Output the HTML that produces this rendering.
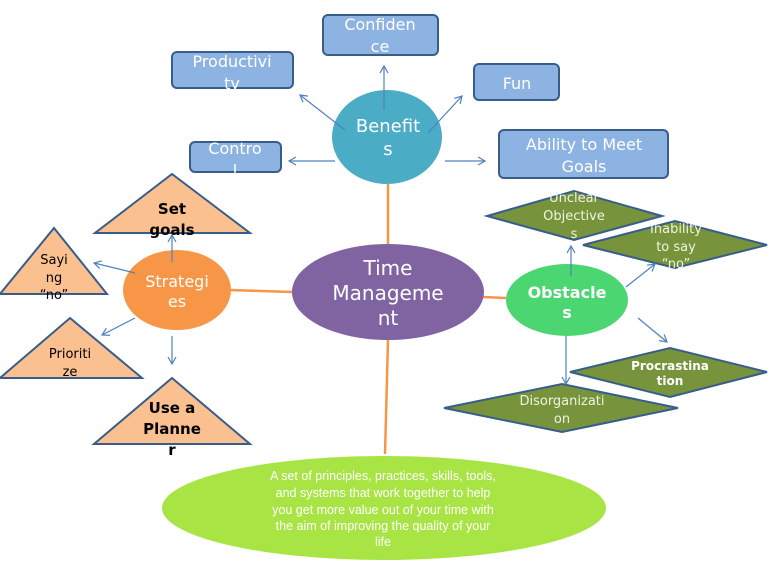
<!DOCTYPE html>
<html><head><meta charset="utf-8"><style>
html,body{margin:0;padding:0;background:#fff;}
svg{display:block;font-family:"DejaVu Sans","Liberation Sans",sans-serif;}
</style></head><body>
<svg width="768" height="576" viewBox="0 0 768 576" xmlns="http://www.w3.org/2000/svg">
<defs>
<marker id="a" markerWidth="10" markerHeight="10" refX="8" refY="5" orient="auto" markerUnits="userSpaceOnUse">
<path d="M1,1 L8,5 L1,9" fill="none" stroke="#4f81bd" stroke-width="1.2"/>
</marker>
</defs>
<!-- orange connectors -->
<g stroke="#f79646" stroke-width="2.5">
<line x1="388" y1="184" x2="388" y2="246"/>
<line x1="229" y1="290" x2="293" y2="292"/>
<line x1="483" y1="297" x2="506" y2="298"/>
<line x1="388" y1="340" x2="385" y2="454"/>
</g>
<!-- boxes -->
<g fill="#8db3e2" stroke="#385d8a" stroke-width="2">
<rect x="323" y="15" width="115" height="40" rx="5"/>
<rect x="172" y="52" width="121" height="36" rx="5"/>
<rect x="474" y="64" width="85" height="36" rx="5"/>
<rect x="190" y="142" width="91" height="30" rx="5"/>
<rect x="499" y="130" width="169" height="48" rx="5"/>
</g>
<g fill="#fff" font-size="16" text-anchor="middle">
<text x="380" y="30">Confiden</text><text x="380" y="52">ce</text>
<text x="232" y="67">Productivi</text><text x="232" y="89">ty</text>
<text x="517" y="89">Fun</text>
<text x="235" y="154">Contro</text><text x="235" y="176">l</text>
<text x="584" y="150">Ability to Meet</text><text x="584" y="172">Goals</text>
</g>
<!-- ellipses -->
<ellipse cx="387" cy="137" rx="55" ry="47" fill="#4bacc6"/>
<ellipse cx="388" cy="292" rx="96" ry="48" fill="#8064a2"/>
<ellipse cx="177" cy="290" rx="54" ry="40" fill="#f79646"/>
<ellipse cx="567" cy="300" rx="61" ry="36" fill="#4cd672"/>
<ellipse cx="384" cy="508" rx="222" ry="52" fill="#a8e544"/>
<g fill="#fff" text-anchor="middle">
<text x="388" y="132" font-size="18">Benefit</text><text x="388" y="155" font-size="18">s</text>
<text x="388" y="275" font-size="20">Time</text><text x="388" y="300" font-size="20">Manageme</text><text x="388" y="325" font-size="20">nt</text>
<text x="177" y="287" font-size="16">Strategi</text><text x="177" y="307" font-size="16">es</text>
<text x="567" y="298" font-size="16" font-weight="bold">Obstacle</text><text x="567" y="318" font-size="16" font-weight="bold">s</text>
<g font-size="12.5" font-family="'Liberation Sans Narrow','Liberation Sans',sans-serif">
<text x="383" y="480">A set of principles, practices, skills, tools,</text>
<text x="383" y="497">and systems that work together to help</text>
<text x="383" y="514">you get more value out of your time with</text>
<text x="383" y="530">the aim of improving the quality of your</text>
<text x="383" y="546">life</text>
</g>
</g>
<!-- triangles -->
<g fill="#fac090" stroke="#385d8a" stroke-width="2">
<polygon points="172,174 250,233 95,233"/>
<polygon points="54,228 107,294 0,294"/>
<polygon points="70,318 142,378 0,378"/>
<polygon points="172,378 250,444 94,444"/>
</g>
<g fill="#000" text-anchor="middle">
<text x="172" y="214" font-size="15" font-weight="bold">Set</text><text x="172" y="235" font-size="15" font-weight="bold">goals</text>
<text x="54" y="264" font-size="13">Sayi</text><text x="54" y="282" font-size="13">ng</text><text x="54" y="299" font-size="13">“no”</text>
<text x="70" y="358" font-size="13">Prioriti</text><text x="70" y="376" font-size="13">ze</text>
<text x="172" y="413" font-size="15" font-weight="bold">Use a</text><text x="172" y="434" font-size="15" font-weight="bold">Planne</text><text x="172" y="455" font-size="15" font-weight="bold">r</text>
</g>
<!-- diamonds -->
<g fill="#77933c" stroke="#385d8a" stroke-width="2">
<polygon points="487,216 574,191 662,216 574,240"/>
<polygon points="583,245 675,221 767,245 675,268"/>
<polygon points="570,372 670,348 767,372 670,397"/>
<polygon points="444,408 562,384 678,408 562,432"/>
</g>
<g fill="#eef3e0" text-anchor="middle" font-size="13">
<text x="574" y="202">Unclear</text><text x="574" y="220">Objective</text><text x="574" y="238">s</text>
<text x="676" y="233">Inability</text><text x="676" y="251">to say</text><text x="676" y="268">“no”</text>
<text x="670" y="370" font-weight="bold" font-size="12" fill="#fff">Procrastina</text><text x="670" y="385" font-weight="bold" font-size="12" fill="#fff">tion</text>
<text x="562" y="405">Disorganizati</text><text x="562" y="423">on</text>
</g>
<!-- blue arrows -->
<g stroke="#4f81bd" stroke-width="1.2" fill="none" marker-end="url(#a)">
<line x1="345" y1="130" x2="300" y2="95"/>
<line x1="384" y1="110" x2="384" y2="66"/>
<line x1="428" y1="133" x2="462" y2="96"/>
<line x1="335" y1="161" x2="289" y2="161"/>
<line x1="445" y1="161" x2="485" y2="161"/>
<line x1="172" y1="262" x2="172" y2="235"/>
<line x1="135" y1="273" x2="94" y2="263"/>
<line x1="135" y1="318" x2="102" y2="335"/>
<line x1="172" y1="336" x2="172" y2="364"/>
<line x1="571" y1="276" x2="571" y2="246"/>
<line x1="626" y1="287" x2="655" y2="264"/>
<line x1="638" y1="318" x2="667" y2="342"/>
<line x1="566" y1="336" x2="566" y2="384"/>
</g>
</svg>
</body></html>
